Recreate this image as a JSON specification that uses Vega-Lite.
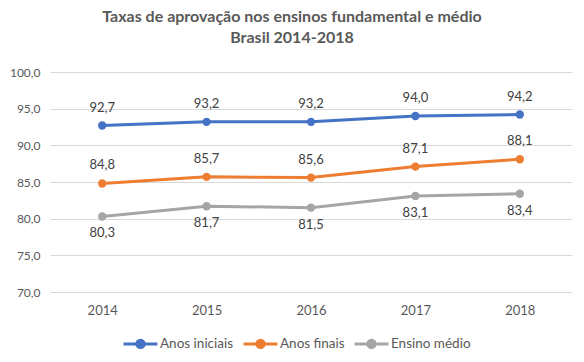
{
  "$schema": "https://vega.github.io/schema/vega-lite/v6.json",
  "width": 522,
  "height": 220,
  "autosize": {"type": "none"},
  "padding": {"left": 50, "top": 72, "right": 12, "bottom": 70},
  "background": "white",
  "config": {
    "font": "Lato",
    "view": {"stroke": null},
    "locale": {"number": {"decimal": ",", "thousands": ".", "grouping": [3], "currency": ["R$", ""]}}
  },
  "title": {
    "text": ["Taxas de aprovação nos ensinos fundamental e médio", "Brasil 2014-2018"],
    "anchor": "middle",
    "dx": -19,
    "fontSize": 16,
    "fontWeight": "bold",
    "color": "#595959",
    "lineHeight": 21,
    "offset": 20
  },
  "data": {
    "values": [
      {"year": "2014", "serie": "Anos iniciais", "taxa": 92.7},
      {"year": "2015", "serie": "Anos iniciais", "taxa": 93.2},
      {"year": "2016", "serie": "Anos iniciais", "taxa": 93.2},
      {"year": "2017", "serie": "Anos iniciais", "taxa": 94.0},
      {"year": "2018", "serie": "Anos iniciais", "taxa": 94.2},
      {"year": "2014", "serie": "Anos finais", "taxa": 84.8},
      {"year": "2015", "serie": "Anos finais", "taxa": 85.7},
      {"year": "2016", "serie": "Anos finais", "taxa": 85.6},
      {"year": "2017", "serie": "Anos finais", "taxa": 87.1},
      {"year": "2018", "serie": "Anos finais", "taxa": 88.1},
      {"year": "2014", "serie": "Ensino médio", "taxa": 80.3},
      {"year": "2015", "serie": "Ensino médio", "taxa": 81.7},
      {"year": "2016", "serie": "Ensino médio", "taxa": 81.5},
      {"year": "2017", "serie": "Ensino médio", "taxa": 83.1},
      {"year": "2018", "serie": "Ensino médio", "taxa": 83.4}
    ]
  },
  "encoding": {
    "x": {
      "field": "year", "type": "ordinal",
      "scale": {"type": "point", "padding": 0.5},
      "axis": {"title": null, "labelAngle": 0, "ticks": false, "domain": false, "labelPadding": 12, "labelFontSize": 13, "labelColor": "#595959", "grid": false}
    },
    "y": {
      "field": "taxa", "type": "quantitative",
      "scale": {"domain": [70, 100], "nice": false, "zero": false},
      "axis": {"title": null, "values": [70, 75, 80, 85, 90, 95, 100], "format": ".1f", "ticks": false, "domain": false, "labelPadding": 10, "labelFontSize": 12, "labelColor": "#595959", "gridColor": "#d9d9d9", "gridWidth": 1}
    }
  },
  "layer": [
    {
      "mark": {"type": "line", "strokeWidth": 3, "point": {"filled": true, "size": 70}},
      "encoding": {
        "color": {
          "field": "serie", "type": "nominal",
          "scale": {"domain": ["Anos iniciais", "Anos finais", "Ensino médio"], "range": ["#4472C4", "#ED7D31", "#A5A5A5"]},
          "legend": {
            "title": null,
            "orient": "none",
            "direction": "horizontal",
            "legendX": 72,
            "legendY": 253,
            "labelFontSize": 13.5,
            "labelColor": "#595959",
            "columnPadding": 3,
            "labelOffset": 1,
            "symbolType": "M-1,0L1,0M-0.22,0A0.22,0.22 0 1,1 0.22,0A0.22,0.22 0 1,1 -0.22,0Z",
            "symbolSize": 1150,
            "symbolStrokeWidth": 3,
            "encode": {"symbols": {"update": {"fill": {"scale": "color", "field": "value"}, "stroke": {"scale": "color", "field": "value"}}}}
          }
        }
      }
    },
    {
      "transform": [{"filter": "datum.serie !== 'Ensino médio'"}],
      "mark": {"type": "text", "baseline": "bottom", "dy": -11, "fontSize": 13, "color": "#404040"},
      "encoding": {"text": {"field": "taxa", "type": "quantitative", "format": ".1f"}}
    },
    {
      "transform": [{"filter": "datum.serie === 'Ensino médio'"}],
      "mark": {"type": "text", "baseline": "top", "dy": 11, "fontSize": 13, "color": "#404040"},
      "encoding": {"text": {"field": "taxa", "type": "quantitative", "format": ".1f"}}
    }
  ]
}
